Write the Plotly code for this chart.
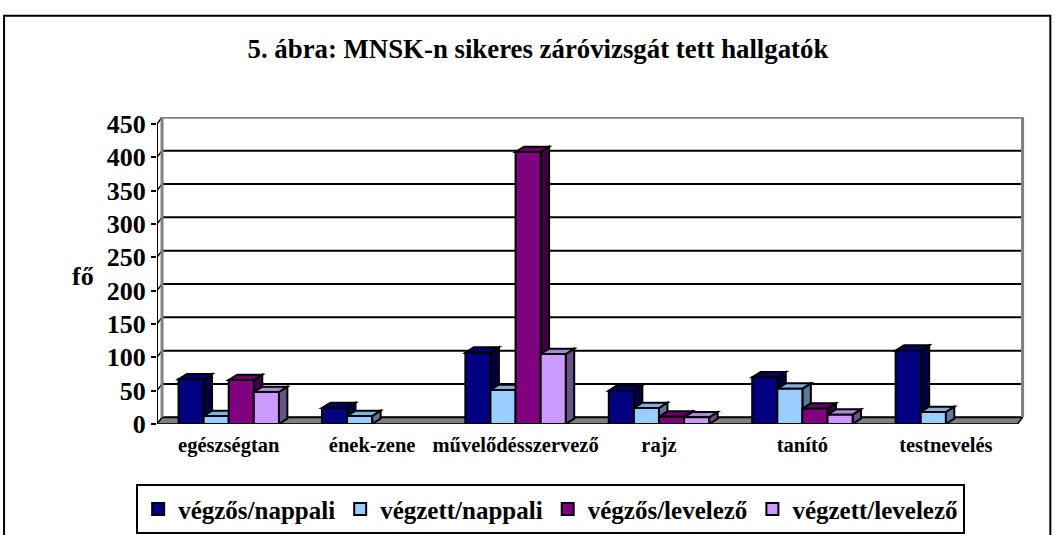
import plotly.graph_objects as go

categories = ["egészségtan", "ének-zene", "művelődésszervező", "rajz", "tanító", "testnevelés"]
series_names = ["végzős/nappali", "végzett/nappali", "végzős/levelező", "végzett/levelező"]
vegzos_nappali = [67, 24, 107, 50, 70, 110]
vegzett_nappali = [12, 12, 51, 24, 53, 18]
vegzos_levelezo = [66, None, 408, 11, 23, None]
vegzett_levelezo = [48, None, 105, 10, 14, None]
colors = ["#000080", "#99CCFF", "#800080", "#CC99FF"]
top_colors = ["#000070", "#80AEDD", "#6A006A", "#AE85D6"]
side_colors = ["#000040", "#5C7A99", "#400040", "#6A5285"]
y_ticks = [0, 50, 100, 150, 200, 250, 300, 350, 400, 450]

FONT = "Liberation Serif"
BARGAP = 0.30
DX = 0.059   # bar depth, category units
DY = 8       # bar depth, value units
DXW = 0.035  # wall depth, category units
DYW = 10     # wall depth, value units

series = [vegzos_nappali, vegzett_nappali, vegzos_levelezo, vegzett_levelezo]
n = len(categories)
XL, XR = -0.5, n - 0.5
YMAX = y_ticks[-1]

fig = go.Figure()
for name, vals, col in zip(series_names, series, colors):
    fig.add_trace(go.Bar(name="<b>" + name + "</b>", x=list(range(n)), y=vals,
                         marker=dict(color=col, line=dict(color="black", width=2))))

shapes = []
# floor
shapes.append(dict(type="path", xref="x", yref="y",
                   path=f"M {XL} 0 L {XR} 0 L {XR+DXW} {DYW} L {XL+DXW} {DYW} Z",
                   fillcolor="#808080", line=dict(color="#505050", width=1), layer="below"))
# back wall gridlines + little connectors to the axis
for v in y_ticks[:-1]:
    shapes.append(dict(type="line", xref="x", yref="y", x0=XL + DXW, x1=XR + DXW,
                       y0=v + DYW, y1=v + DYW, line=dict(color="black", width=2), layer="below"))
for v in y_ticks:
    shapes.append(dict(type="line", xref="x", yref="y", x0=XL, x1=XL + DXW,
                       y0=v, y1=v + DYW, line=dict(color="black", width=1.5), layer="below"))
# wall outline (grey)
shapes.append(dict(type="line", xref="x", yref="y", x0=XL + DXW, x1=XR + DXW,
                   y0=YMAX + DYW, y1=YMAX + DYW, line=dict(color="#808080", width=3), layer="below"))
shapes.append(dict(type="line", xref="x", yref="y", x0=XR + DXW, x1=XR + DXW,
                   y0=DYW, y1=YMAX + DYW, line=dict(color="#808080", width=3), layer="below"))
shapes.append(dict(type="line", xref="x", yref="y", x0=XL + DXW, x1=XL + DXW,
                   y0=DYW, y1=YMAX + DYW, line=dict(color="#808080", width=3), layer="below"))
# y axis line (front)
shapes.append(dict(type="line", xref="x", yref="y", x0=XL, x1=XL,
                   y0=0, y1=YMAX, line=dict(color="black", width=2), layer="below"))
# floor front edge
shapes.append(dict(type="line", xref="x", yref="y", x0=XL, x1=XR,
                   y0=0, y1=0, line=dict(color="black", width=1.5), layer="below"))
shapes.append(dict(type="line", xref="x", yref="y", x0=XR, x1=XR + DXW,
                   y0=0, y1=DYW, line=dict(color="black", width=1.5), layer="below"))
# x-axis tick marks at category boundaries
for k in range(n + 1):
    shapes.append(dict(type="line", xref="x", yref="y", x0=k - 0.5, x1=k - 0.5, y0=0, y1=-9,
                       line=dict(color="black", width=2), layer="below"))

# bar depth faces derived from the data
w = (1 - BARGAP) / len(series)
for j, vals in enumerate(series):
    for i, v in enumerate(vals):
        if v is None:
            continue
        xc = i + (j - (len(series) - 1) / 2) * w
        x0, x1 = xc - w / 2, xc + w / 2
        shapes.append(dict(type="path", xref="x", yref="y",
                           path=f"M {x1} 0 L {x1} {v} L {x1+DX} {v+DY} L {x1+DX} {DY} Z",
                           fillcolor=side_colors[j], line=dict(color="black", width=2), layer="between"))
        shapes.append(dict(type="path", xref="x", yref="y",
                           path=f"M {x0} {v} L {x1} {v} L {x1+DX} {v+DY} L {x0+DX} {v+DY} Z",
                           fillcolor=top_colors[j], line=dict(color="black", width=2), layer="between"))

fig.update_layout(shapes=shapes)

fig.update_layout(
    width=1054, height=535,
    margin=dict(l=157, r=28.4, t=117, b=111, autoexpand=False),
    paper_bgcolor="white", plot_bgcolor="white",
    barmode="group", bargap=BARGAP, bargroupgap=0,
    font=dict(family=FONT, color="black"),
    title=dict(text="<b>5. ábra: MNSK-n sikeres záróvizsgát tett hallgatók</b>",
               x=0.5104, xanchor="center", y=0.910, yanchor="middle",
               font=dict(size=26.8, family=FONT, color="black")),
    xaxis=dict(range=[XL, XR + DX], showline=False, automargin=False,
               tickmode="array", tickvals=list(range(n)),
               ticktext=["<b>" + c + "</b>" for c in categories],
               ticks="", showgrid=False, zeroline=False, ticklabelstandoff=6,
               tickfont=dict(size=20.5, family=FONT, color="black")),
    yaxis=dict(range=[-0.0, 460.5], tickvals=y_ticks, automargin=False,
               ticktext=["<b>" + str(t) + "</b>" for t in y_ticks],
               showline=False, ticks="outside", ticklen=5, tickcolor="black", tickwidth=2,
               showgrid=False, zeroline=False,
               tickfont=dict(size=26, family=FONT, color="black")),
    legend=dict(orientation="h", x=0.453, xanchor="center", y=-0.196, yanchor="top",
                bordercolor="black", borderwidth=2, bgcolor="white",
                font=dict(size=25, family=FONT, color="black"),
                itemsizing="constant", traceorder="normal", itemwidth=30),
    showlegend=True,
)

fig.add_annotation(text="<b>fő</b>", xref="paper", yref="paper",
                   x=-0.085, y=0.479, xanchor="center", yanchor="middle", showarrow=False,
                   font=dict(size=26, family=FONT, color="black"))

# outer chart border
fig.add_shape(type="rect", xref="paper", yref="paper",
              x0=-0.176, x1=1.028, y0=-0.45, y1=1.33,
              line=dict(color="black", width=2), fillcolor="rgba(0,0,0,0)", layer="below")

fig.write_html("out.html", config={"displayModeBar": False},
               post_script="document.body.style.margin='0';")
